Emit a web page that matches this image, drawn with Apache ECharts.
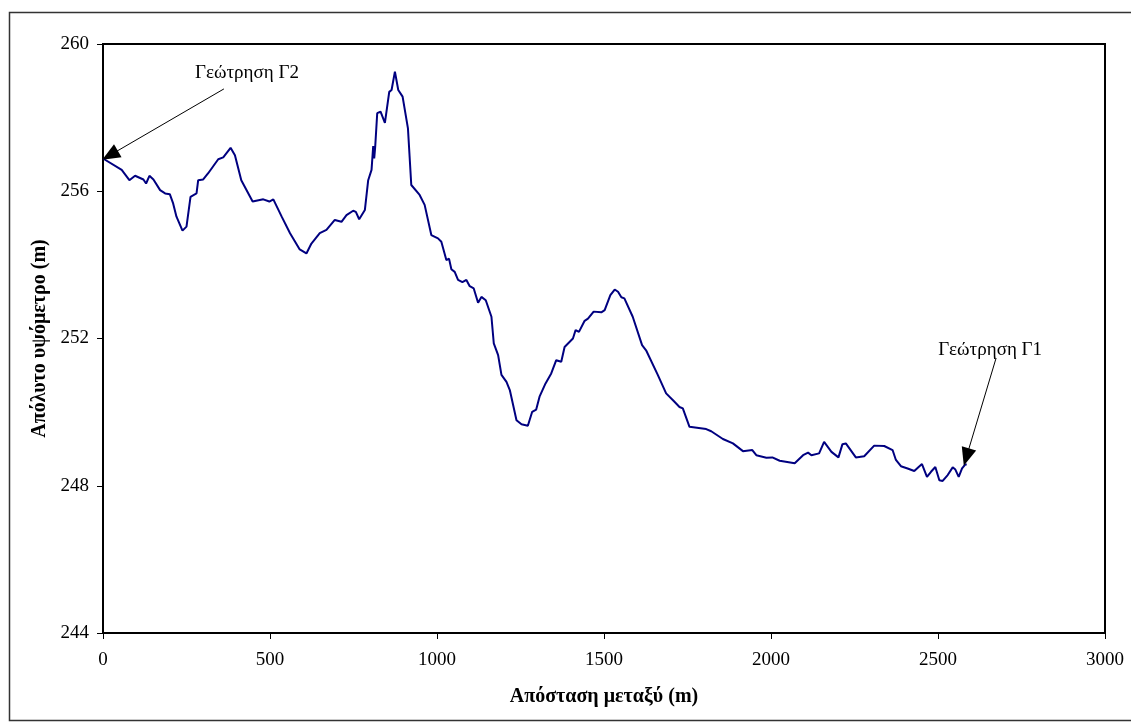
<!DOCTYPE html>
<html>
<head>
<meta charset="utf-8">
<script src="https://cdn.jsdelivr.net/npm/echarts@6/dist/echarts.min.js"></script>
<style>
html,body{margin:0;padding:0;background:#fff;}
#chart{width:1131px;height:726px;}
</style>
</head>
<body>
<div id="chart"></div>
<script>
const distance = [0,56,79,96,121,129,139,151,171,186,200,210,220,238,250,262,280,285,300,315,345,360,382,395,414,448,480,498,510,535,560,589,609,624,649,669,694,714,729,749,757,767,784,794,804,809,812,815,821,831,844,857,864,874,884,897,913,923,948,963,983,1003,1013,1028,1036,1043,1053,1063,1076,1088,1098,1110,1123,1133,1146,1163,1170,1183,1193,1208,1218,1238,1253,1272,1285,1297,1307,1325,1342,1357,1372,1382,1407,1415,1425,1442,1452,1469,1492,1502,1519,1532,1542,1552,1561,1586,1614,1626,1661,1686,1711,1726,1736,1756,1806,1821,1856,1886,1916,1944,1956,1986,2004,2026,2071,2096,2111,2121,2144,2159,2181,2202,2214,2224,2254,2279,2309,2339,2364,2374,2389,2409,2429,2442,2452,2467,2479,2492,2504,2514,2529,2544,2552,2562,2572,2582,2586];
const elevation = [256.89,256.58,256.30,256.42,256.32,256.21,256.42,256.32,256.03,255.94,255.92,255.67,255.31,254.93,255.04,255.85,255.94,256.30,256.32,256.49,256.87,256.92,257.18,256.98,256.30,255.72,255.78,255.72,255.78,255.31,254.86,254.42,254.31,254.58,254.86,254.95,255.22,255.17,255.35,255.47,255.44,255.24,255.49,256.30,256.58,257.23,256.89,257.21,258.12,258.16,257.86,258.70,258.75,259.25,258.75,258.57,257.71,256.17,255.90,255.63,254.81,254.72,254.63,254.13,254.17,253.88,253.81,253.59,253.53,253.59,253.42,253.36,252.97,253.13,253.04,252.59,251.87,251.55,251.01,250.82,250.60,249.78,249.67,249.63,250.01,250.07,250.42,250.78,251.05,251.41,251.37,251.77,252.00,252.23,252.18,252.48,252.54,252.73,252.71,252.77,253.18,253.33,253.27,253.12,253.09,252.59,251.82,251.68,251.01,250.51,250.28,250.14,250.10,249.60,249.54,249.48,249.27,249.15,248.94,248.97,248.83,248.76,248.77,248.68,248.61,248.83,248.90,248.83,248.88,249.19,248.92,248.77,249.13,249.15,248.77,248.80,249.09,249.08,248.97,248.70,248.53,248.47,248.40,248.51,248.59,248.24,248.38,248.51,248.15,248.13,248.29,248.50,248.44,248.24,248.47,248.58,248.58];

const xTicks = {min: 0, max: 3000, interval: 500};
const yTicks = {min: 244, max: 260, interval: 4};

const annotationNames = ['Γεώτρηση Γ2', 'Γεώτρηση Γ1'];
const annotationText = [[431, 259.21], [2656, 251.68]];
const arrowFrom = [[362, 258.78], [2674, 251.47]];
const arrowTo = [[21, 256.98], [2585, 248.78]];

const chart = echarts.init(document.getElementById('chart'), null, {renderer: 'canvas'});
const serif = '"Liberation Serif", "Times New Roman", serif';

chart.setOption({
  animation: false,
  backgroundColor: '#ffffff',
  graphic: [{
    type: 'rect',
    left: 7, top: 10,
    shape: {width: 1140, height: 708},
    style: {fill: 'none', stroke: '#333', lineWidth: 1.5},
    silent: true, z: -1
  }],
  grid: {
    left: 103, top: 44, right: 26, bottom: 93,
    show: true, borderColor: '#000', borderWidth: 2, backgroundColor: 'transparent'
  },
  xAxis: {
    type: 'value',
    min: xTicks.min, max: xTicks.max, interval: xTicks.interval,
    name: 'Απόσταση μεταξύ (m)',
    nameLocation: 'middle', nameGap: 54,
    nameTextStyle: {fontFamily: serif, fontSize: 20, fontWeight: 'bold', color: '#000'},
    axisLine: {show: true, lineStyle: {color: '#000', width: 2}},
    axisTick: {show: true, inside: false, length: 6, lineStyle: {color: '#000', width: 1}},
    axisLabel: {fontFamily: serif, fontSize: 19, color: '#000', margin: 18, formatter: v => String(v)},
    splitLine: {show: false}
  },
  yAxis: {
    type: 'value',
    min: yTicks.min, max: yTicks.max, interval: yTicks.interval,
    name: 'Απόλυτο υψόμετρο (m)',
    nameLocation: 'middle', nameGap: 53, nameRotate: 90,
    nameTextStyle: {fontFamily: serif, fontSize: 20, fontWeight: 'bold', color: '#000'},
    axisLine: {show: true, lineStyle: {color: '#000', width: 2}},
    axisTick: {show: true, inside: false, length: 6, lineStyle: {color: '#000', width: 1}},
    axisLabel: {fontFamily: serif, fontSize: 19, color: '#000', margin: 14, formatter: v => String(v)},
    splitLine: {show: false}
  },
  series: [{
    type: 'line',
    data: distance.map((d, i) => [d, elevation[i]]),
    showSymbol: false,
    symbol: 'none',
    smooth: false,
    lineStyle: {color: '#000080', width: 2},
    markLine: {
      silent: true,
      symbol: ['none', 'triangle'],
      symbolSize: [15, 18],
      label: {show: false},
      lineStyle: {color: '#000', width: 1, type: 'solid'},
      itemStyle: {color: '#000'},
      data: arrowFrom.map((f, i) => [{coord: f}, {coord: arrowTo[i]}])
    },
    markPoint: {
      silent: true,
      symbol: 'circle',
      symbolSize: 0,
      itemStyle: {color: 'transparent'},
      label: {
        show: true, position: 'inside',
        fontFamily: serif, fontSize: 19, color: '#000',
        formatter: p => p.name
      },
      data: annotationNames.map((n, i) => ({name: n, coord: annotationText[i]}))
    }
  }]
});
</script>
</body>
</html>
